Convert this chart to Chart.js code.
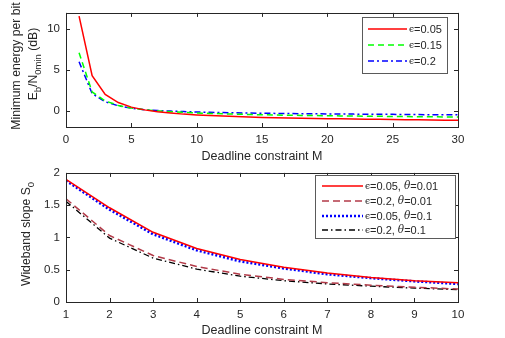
<!DOCTYPE html>
<html><head><meta charset="utf-8">
<script src="https://cdn.jsdelivr.net/npm/chart.js@4/dist/chart.umd.min.js"></script>
<style>
html,body{margin:0;padding:0;background:#fff;width:505px;height:338px;overflow:hidden}
canvas{position:absolute;left:0}
#c1{top:0}
#c2{top:160px}
</style></head><body>
<canvas id="c1" width="505" height="166"></canvas>
<canvas id="c2" width="505" height="178"></canvas>
<script>
// ---- data ----
const deadlineTop = [1,2,3,4,5,6,7,8,9,10,11,12,13,14,15,16,17,18,19,20,21,22,23,24,25,26,27,28,29,30];
const ebEps005 = [11.6,4.3,2.0,1.0,0.44,0.1,-0.12,-0.28,-0.42,-0.52,-0.6,-0.66,-0.72,-0.77,-0.82,-0.86,-0.89,-0.92,-0.95,-0.98,-1.0,-1.02,-1.04,-1.06,-1.08,-1.1,-1.12,-1.14,-1.16,-1.18];
const ebEps015 = [7.1,2.3,1.2,0.65,0.33,0.12,-0.02,-0.12,-0.2,-0.27,-0.33,-0.38,-0.42,-0.46,-0.5,-0.53,-0.56,-0.58,-0.6,-0.62,-0.64,-0.66,-0.68,-0.69,-0.71,-0.72,-0.74,-0.75,-0.76,-0.78];
const ebEps02  = [6.0,2.1,1.1,0.6,0.3,0.12,0.02,-0.05,-0.11,-0.16,-0.2,-0.23,-0.26,-0.29,-0.31,-0.33,-0.35,-0.37,-0.38,-0.4,-0.41,-0.42,-0.43,-0.44,-0.45,-0.46,-0.48,-0.49,-0.5,-0.51];
const topXTicks = [0,5,10,15,20,25,30];
const topYTicks = [0,5,10];
const topLabels = ['=0.05','=0.15','=0.2'];

const deadlineBot = [1,2,3,4,5,6,7,8,9,10];
const s0Eps005Th001 = [1.9,1.46,1.08,0.83,0.66,0.54,0.45,0.38,0.33,0.30];
const s0Eps02Th001  = [1.6,1.03,0.72,0.55,0.43,0.35,0.30,0.26,0.23,0.20];
const s0Eps005Th01  = [1.88,1.43,1.05,0.80,0.63,0.52,0.43,0.37,0.32,0.28];
const s0Eps02Th01   = [1.56,0.99,0.68,0.51,0.40,0.33,0.28,0.245,0.215,0.19];
const botXTicks = [1,2,3,4,5,6,7,8,9,10];
const botYTicks = [0,0.5,1,1.5,2];
const botLabels = [['=0.05, ','=0.01'],['=0.2, ','=0.01'],['=0.05, ','=0.1'],['=0.2, ','=0.1']];

// ---- helpers ----
const AX = '#262626';
const SANS = '"Liberation Sans", Arial, sans-serif';
const SERIF = '"DejaVu Serif", "Liberation Serif", serif';

function richDraw(ctx, segs, cx, cy, rot) {
  ctx.save();
  ctx.translate(cx, cy);
  if (rot) ctx.rotate(-Math.PI/2);
  ctx.textBaseline = 'middle';
  ctx.textAlign = 'left';
  let w = 0;
  segs.forEach(s => { ctx.font = s.font; s.w = ctx.measureText(s.t).width; w += s.w; });
  let x = -w/2;
  segs.forEach(s => { ctx.font = s.font; ctx.fillStyle = AX; ctx.fillText(s.t, x, s.dy || 0); x += s.w; });
  ctx.restore();
}

function framePlugin(opts) {
  return {
    id: 'frame',
    afterDatasetsDraw(chart) {
      const ctx = chart.ctx, a = chart.chartArea;
      const xs = chart.scales.x, ys = chart.scales.y;
      ctx.save();
      ctx.strokeStyle = AX; ctx.lineWidth = 1;
      ctx.strokeRect(Math.round(a.left)+0.5, Math.round(a.top)+0.5, Math.round(a.right-a.left), Math.round(a.bottom-a.top));
      const L = 4;
      ctx.beginPath();
      xs.ticks.forEach(t => {
        const px = Math.round(xs.getPixelForValue(t.value))+0.5;
        ctx.moveTo(px, a.bottom); ctx.lineTo(px, a.bottom - L);
        ctx.moveTo(px, a.top); ctx.lineTo(px, a.top + L);
      });
      ys.ticks.forEach(t => {
        const py = Math.round(ys.getPixelForValue(t.value))+0.5;
        ctx.moveTo(a.left, py); ctx.lineTo(a.left + L, py);
        ctx.moveTo(a.right, py); ctx.lineTo(a.right - L, py);
      });
      ctx.stroke();
      // legend
      const lg = opts.legend;
      ctx.fillStyle = '#fff';
      ctx.fillRect(lg.x0, lg.y0, lg.x1-lg.x0, lg.y1-lg.y0);
      ctx.strokeStyle = '#5a5a5a';
      ctx.strokeRect(lg.x0+0.5, lg.y0+0.5, lg.x1-lg.x0, lg.y1-lg.y0);
      chart.data.datasets.forEach((ds, i) => {
        const y = lg.rows[i];
        ctx.save();
        ctx.strokeStyle = ds.borderColor; ctx.lineWidth = ds.borderWidth;
        ctx.setLineDash(ds.borderDash || []);
        ctx.beginPath(); ctx.moveTo(lg.lx0, y); ctx.lineTo(lg.lx1, y); ctx.stroke();
        ctx.restore();
        let x = lg.tx;
        ctx.textBaseline = 'middle'; ctx.fillStyle = AX;
        const parts = lg.labels[i];
        const segs = [];
        segs.push({t:'\u03F5', font: '9px ' + SERIF});
        if (Array.isArray(parts)) {
          segs.push({t: parts[0], font: '11px ' + SANS});
          segs.push({t:'\u03B8', font: 'italic 10.5px ' + SERIF});
          segs.push({t: parts[1], font: '11px ' + SANS});
        } else {
          segs.push({t: parts, font: '11px ' + SANS});
        }
        segs.forEach(s => { ctx.font = s.font; ctx.fillText(s.t, x, y + 0.5); x += ctx.measureText(s.t).width; });
      });
      // x title
      richDraw(ctx, [{t:'Deadline constraint M', font:'12.5px ' + SANS}], (a.left+a.right)/2, opts.xTitleY, false);
      // y title
      opts.yTitles.forEach(yt => richDraw(ctx, yt.segs, yt.x, yt.y, true));
      ctx.restore();
    }
  };
}

function makeChart(id, cfg) {
  return new Chart(document.getElementById(id), {
    type: 'line',
    data: { datasets: cfg.datasets },
    options: {
      responsive: false, animation: false, devicePixelRatio: 1,
      layout: { padding: { top: cfg.padTop, right: 47, left: 0, bottom: 0 } },
      plugins: { legend: { display: false }, tooltip: { enabled: false } },
      elements: { point: { radius: 0 }, line: { tension: 0 } },
      scales: {
        x: {
          type: 'linear', min: cfg.xmin, max: cfg.xmax,
          border: { display: false }, grid: { display: false, drawTicks: false },
          ticks: { color: AX, font: { family: SANS, size: 11.5 }, padding: 6, maxRotation: 0, autoSkip: false,
                   callback: v => String(v) },
          afterBuildTicks: s => { s.ticks = cfg.xticks.map(v => ({ value: v })); },
          afterFit: s => { s.height = cfg.xAxisH; }
        },
        y: {
          type: 'linear', min: cfg.ymin, max: cfg.ymax,
          border: { display: false }, grid: { display: false, drawTicks: false },
          ticks: { color: AX, font: { family: SANS, size: 11.5 }, padding: 6, autoSkip: false,
                   callback: v => String(v) },
          afterBuildTicks: s => { s.ticks = cfg.yticks.map(v => ({ value: v })); },
          afterFit: s => { s.width = 66; }
        }
      }
    },
    plugins: [framePlugin(cfg.frame)]
  });
}

const pts = (xs, ys) => xs.map((x, i) => ({ x: x, y: ys[i] }));

makeChart('c1', {
  padTop: 10, xAxisH: 39, xmin: 0, xmax: 30, ymin: -2, ymax: 12,
  xticks: topXTicks, yticks: topYTicks,
  datasets: [
    { data: pts(deadlineTop, ebEps005), borderColor: '#ff0000', borderWidth: 1.5 },
    { data: pts(deadlineTop, ebEps015), borderColor: '#00ff00', borderWidth: 1.5, borderDash: [6, 4] },
    { data: pts(deadlineTop, ebEps02),  borderColor: '#0000ff', borderWidth: 1.5, borderDash: [6, 3, 2, 3] }
  ],
  frame: {
    legend: { x0: 362, x1: 447, y0: 17, y1: 73, lx0: 368, lx1: 407, tx: 409, rows: [29, 45, 61], labels: topLabels },
    xTitleY: 157,
    yTitles: [
      { x: 16.5, y: 66, segs: [{ t: 'Minimum energy per bit', font: '12.2px ' + SANS }] },
      { x: 34, y: 64, segs: [
        { t: 'E', font: '12.2px ' + SANS },
        { t: 'b', font: '9.5px ' + SANS, dy: 4 },
        { t: '/N', font: '12.2px ' + SANS },
        { t: '0min', font: '9.5px ' + SANS, dy: 4 },
        { t: ' (dB)', font: '12.2px ' + SANS }
      ] }
    ]
  }
});

makeChart('c2', {
  padTop: 9, xAxisH: 36, xmin: 1, xmax: 10, ymin: 0, ymax: 2,
  xticks: botXTicks, yticks: botYTicks,
  datasets: [
    { data: pts(deadlineBot, s0Eps005Th001), borderColor: '#ff0000', borderWidth: 1.5 },
    { data: pts(deadlineBot, s0Eps02Th001),  borderColor: '#b23a48', borderWidth: 1.5, borderDash: [7, 4] },
    { data: pts(deadlineBot, s0Eps005Th01),  borderColor: '#0000ff', borderWidth: 2.5, borderDash: [2, 2] },
    { data: pts(deadlineBot, s0Eps02Th01),   borderColor: '#000000', borderWidth: 1.3, borderDash: [6, 3, 1.5, 3] }
  ],
  frame: {
    legend: { x0: 315, x1: 455, y0: 15, y1: 78, lx0: 322, lx1: 363, tx: 365, rows: [26, 41, 56, 70], labels: botLabels },
    xTitleY: 171,
    yTitles: [
      { x: 27, y: 74, segs: [
        { t: 'Wideband slope S', font: '12.2px ' + SANS },
        { t: '0', font: '9.5px ' + SANS, dy: 4 }
      ] }
    ]
  }
});
</script>
</body></html>
